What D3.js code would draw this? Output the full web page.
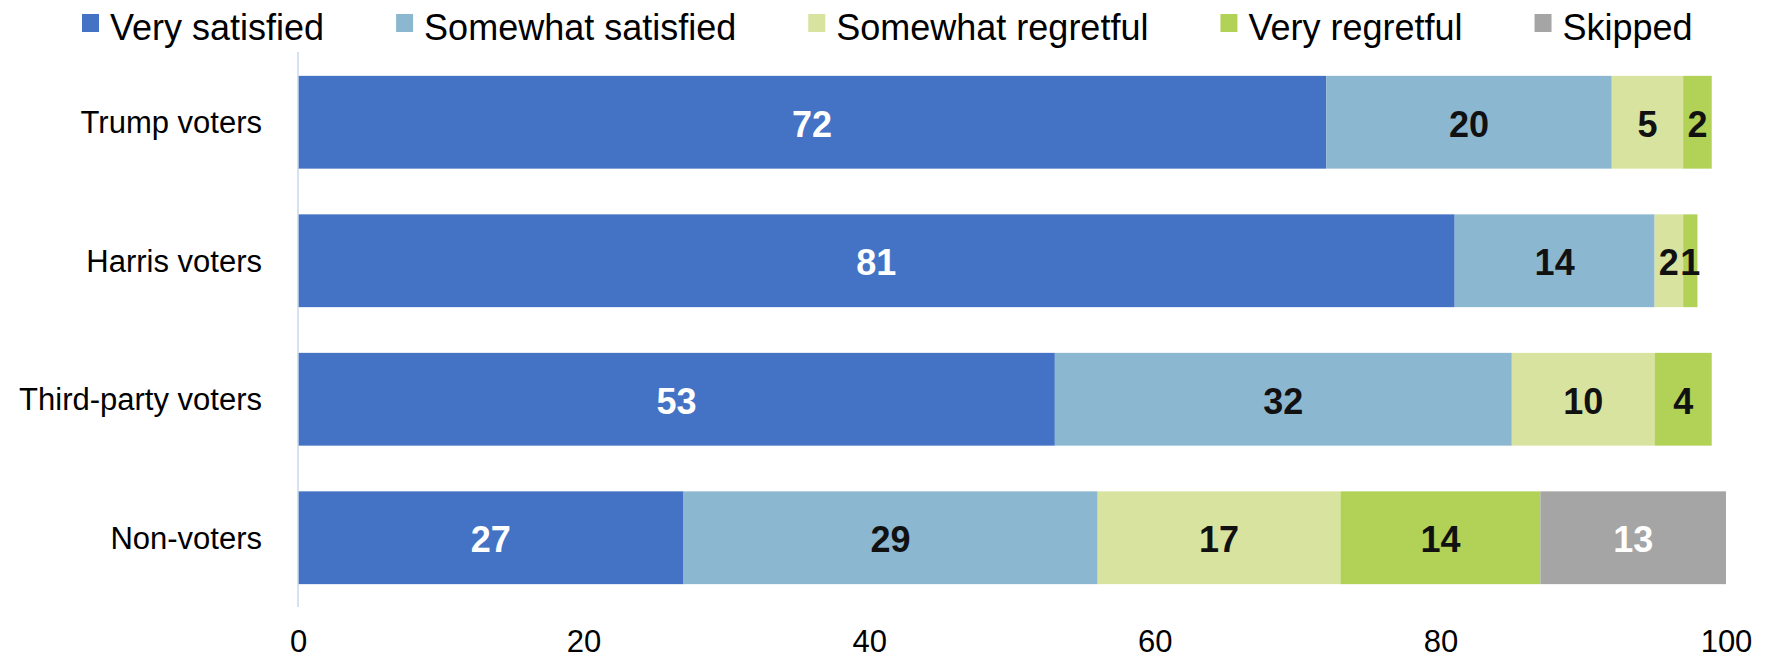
<!DOCTYPE html>
<html>
<head>
<meta charset="utf-8">
<script src="https://cdn.jsdelivr.net/npm/d3@7"></script>
<style>
  html, body { margin: 0; padding: 0; background: #fff; }
  svg { display: block; font-family: "Liberation Sans", Arial, sans-serif; }
</style>
</head>
<body>
<svg id="chart" width="1771" height="660"></svg>
<script>
const categories = ["Trump voters", "Harris voters", "Third-party voters", "Non-voters"];
const seriesNames = ["Very satisfied", "Somewhat satisfied", "Somewhat regretful", "Very regretful", "Skipped"];
const verySatisfied = [72, 81, 53, 27];
const somewhatSatisfied = [20, 14, 32, 29];
const somewhatRegretful = [5, 2, 10, 17];
const veryRegretful = [2, 1, 4, 14];
const skipped = [0, 0, 0, 13];
const xTicks = [0, 20, 40, 60, 80, 100];
const colors = ["#4472C4", "#8CB7D1", "#D9E3A0", "#B1D157", "#A5A5A5"];
const labelColors = ["#ffffff", "#111111", "#111111", "#111111", "#ffffff"];

const seriesValues = [verySatisfied, somewhatSatisfied, somewhatRegretful, veryRegretful, skipped];
const rows = categories.map((c, i) => {
  const r = { category: c };
  seriesNames.forEach((s, j) => r[s] = seriesValues[j][i]);
  return r;
});
const stacked = d3.stack().keys(seriesNames)(rows);

const svg = d3.select("#chart");
const x = d3.scaleLinear().domain([0, 100]).range([298, 1726]);
const y = d3.scaleBand().domain(categories).range([53, 607]).paddingInner(0.33).paddingOuter(0.165);

// bars
const layers = svg.append("g").selectAll("g").data(stacked).join("g")
  .attr("fill", (d, i) => colors[i]);
layers.selectAll("rect").data(d => d.map(v => ({ v, key: d.key }))).join("rect")
  .attr("x", d => x(d.v[0]))
  .attr("y", d => y(d.v.data.category))
  .attr("width", d => Math.max(0, x(d.v[1]) - x(d.v[0])))
  .attr("height", y.bandwidth());

// data labels
stacked.forEach((layer, i) => {
  svg.append("g").selectAll("text").data(layer.filter(v => v[1] - v[0] > 0)).join("text")
    .attr("x", v => (x(v[0]) + x(v[1])) / 2)
    .attr("y", v => y(v.data.category) + y.bandwidth() / 2)
    .attr("dy", "0.4em")
    .attr("text-anchor", "middle")
    .attr("font-size", 36)
    .attr("font-weight", "bold")
    .attr("fill", labelColors[i])
    .text(v => v[1] - v[0]);
});

// y axis
const yAxis = svg.append("g").attr("transform", `translate(${x(0)},0)`)
  .call(d3.axisLeft(y).tickSize(0).tickPadding(36));
yAxis.select(".domain").attr("stroke", "#C9D8EA").attr("stroke-width", 1.5)
  .attr("d", `M0,52V607`);
yAxis.selectAll("text").attr("font-size", 31).attr("fill", "#000")
  .attr("font-family", "'Liberation Sans', Arial, sans-serif").attr("dy", "0.35em");

// x axis
const xAxis = svg.append("g").attr("transform", `translate(0,607)`)
  .call(d3.axisBottom(x).tickValues(xTicks).tickSize(0).tickPadding(0));
xAxis.select(".domain").remove();
xAxis.selectAll("text").attr("font-size", 31).attr("fill", "#000")
  .attr("font-family", "'Liberation Sans', Arial, sans-serif")
  .attr("y", 45).attr("dy", 0);

// legend
const legend = svg.append("g");
let lx = 82;
seriesNames.forEach((s, i) => {
  legend.append("rect").attr("x", lx).attr("y", 14).attr("width", 17).attr("height", 18).attr("fill", colors[i]);
  const t = legend.append("text").attr("x", lx + 28).attr("y", 40)
    .attr("font-size", 36).attr("fill", "#000").text(s);
  const w = t.node().getComputedTextLength();
  lx = lx + 28 + w + 72;
});
</script>
</body>
</html>
